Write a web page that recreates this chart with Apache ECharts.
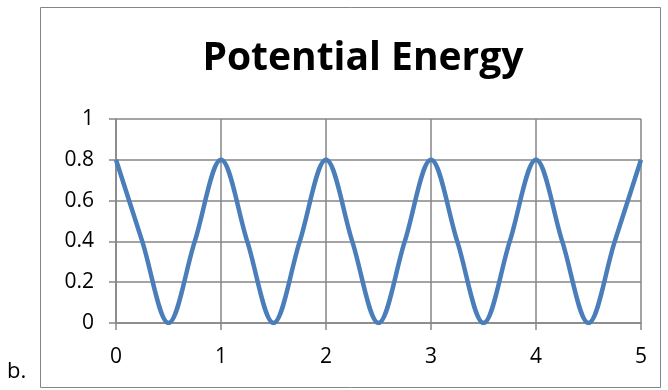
<!DOCTYPE html>
<html><head><meta charset="utf-8">
<script src="https://cdn.jsdelivr.net/npm/echarts@6/dist/echarts.min.js"></script>
<style>html,body{margin:0;padding:0;background:#fff}#c{width:668px;height:390px}</style>
</head><body><div id="c"></div>
<script>
const xValues = [0,0.25,0.5,0.75,1,1.25,1.5,1.75,2,2.25,2.5,2.75,3,3.25,3.5,3.75,4,4.25,4.5,4.75,5];
const peValues = [0.8,0.4,0,0.4,0.8,0.4,0,0.4,0.8,0.4,0,0.4,0.8,0.4,0,0.4,0.8,0.4,0,0.4,0.8];
const xTicks = [0,1,2,3,4,5];
const yTicks = [0,0.2,0.4,0.6,0.8,1];
const titleText = 'Potential Energy';
const sideLabel = 'b.';

const chart = echarts.init(document.getElementById('c'));
const font = '"Open Sans", "Noto Sans", sans-serif';
const labelStyle = {fontFamily:font,fontSize:21,color:'#000'};
chart.setOption({
  animation:false,
  title:{text:titleText,left:358,top:34,textAlign:'center',textStyle:{fontFamily:font,fontWeight:'bold',fontSize:39,color:'#000'}},
  grid:{left:116,right:27,top:119,bottom:67},
  graphic:[
    {type:'rect',shape:{x:40.5,y:7.5,width:620,height:380},style:{fill:'none',stroke:'#868686',lineWidth:1},silent:true},
    {type:'text',left:7,top:361,style:{text:sideLabel,font:'22px '+font,fill:'#000'}}
  ],
  xAxis:{type:'value',min:xTicks[0],max:xTicks[xTicks.length-1],interval:1,
    axisLine:{lineStyle:{color:'#868686',width:1.5}},
    axisTick:{show:true,length:7,lineStyle:{color:'#868686',width:1.5}},
    splitLine:{show:true,lineStyle:{color:'#868686',width:1.5}},
    axisLabel:Object.assign({margin:24},labelStyle)},
  yAxis:{type:'value',min:yTicks[0],max:yTicks[yTicks.length-1],interval:0.2,
    axisLine:{show:true,lineStyle:{color:'#868686',width:1.5}},
    axisTick:{show:true,length:7,lineStyle:{color:'#868686',width:1.5}},
    splitLine:{show:true,lineStyle:{color:'#868686',width:1.5}},
    axisLabel:Object.assign({margin:22},labelStyle)},
  series:[{type:'line',data:xValues.map((x,i)=>[x,peValues[i]]),smooth:0.35,showSymbol:false,
    lineStyle:{color:'#4A7EBB',width:4.5}}]
});
</script></body></html>
